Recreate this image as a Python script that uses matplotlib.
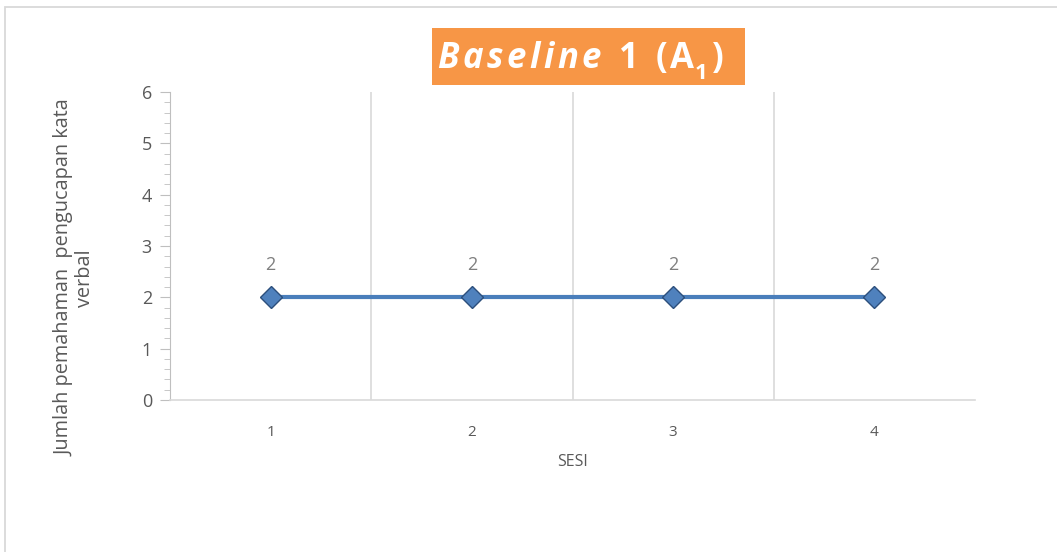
import matplotlib

matplotlib.use("Agg")

import matplotlib.pyplot as plt
from matplotlib.patches import Rectangle
from matplotlib.ticker import MultipleLocator
from matplotlib.transforms import IdentityTransform

sessions = [1, 2, 3, 4]
scores = [2, 2, 2, 2]
y_ticks = [0, 1, 2, 3, 4, 5, 6]

plt.rcParams["font.family"] = ["Open Sans", "DejaVu Sans"]

W, H = 1057, 552
fig = plt.figure(figsize=(W / 100, H / 100), dpi=100)
fig.patch.set_facecolor("white")

# outer chart border
fig.add_artist(Rectangle((5 / W, -0.05), 1.1, 1 - 7 / H + 0.05,
                         transform=fig.transFigure, facecolor="none",
                         edgecolor="#d9d9d9", linewidth=1.3))

ax = fig.add_axes([170 / W, 1 - 400 / H, 805 / W, 308 / H])
ax.set_facecolor("white")

ax.plot(sessions, scores, color="#4a7ebb", linewidth=3, zorder=3)
ax.plot(sessions, scores, linestyle="none", marker="D", markersize=11,
        markerfacecolor="#4f81bd", markeredgecolor="#2c4f7c",
        markeredgewidth=1.0, zorder=4)
for x, y in zip(sessions, scores):
    ax.annotate(str(y), (x, y), xytext=(0, 17), textcoords="offset points",
                ha="center", va="bottom", fontsize=13, color="#7f7f7f")

ax.set_xlim(0.5, 4.5)
ax.set_ylim(0, 6)
ax.set_yticks(y_ticks)
ax.yaxis.set_minor_locator(MultipleLocator(0.2))
ax.set_xticks(sessions)

# vertical gridlines at category boundaries
for b in [1.5, 2.5, 3.5]:
    ax.axvline(b, color="#d9d9d9", linewidth=1.2, zorder=1)

ax.spines[["top", "right"]].set_visible(False)
ax.spines["left"].set_color("#bfbfbf")
ax.spines["bottom"].set_color("#d9d9d9")
ax.spines["bottom"].set_linewidth(1.2)
ax.tick_params(axis="y", which="major", length=7, color="#bfbfbf",
               labelsize=13, labelcolor="#595959", pad=6)
ax.tick_params(axis="y", which="minor", length=4, color="#bfbfbf")
ax.tick_params(axis="x", length=0, labelsize=11, labelcolor="#595959", pad=18)

ax.set_xlabel("SESI", fontsize=11.5, color="#595959", labelpad=10)

fig.text(75 / W, 1 - 278 / H, "Jumlah pemahaman  pengucapan kata\nverbal",
         rotation=90, ha="center", va="center", multialignment="center",
         fontsize=14.3, color="#595959", linespacing=1.05)

# title box
fig.add_artist(Rectangle((432 / W, 1 - 85 / H), 313 / W, 57 / H,
                         transform=fig.transFigure, facecolor="#f79646",
                         edgecolor="none"))

# title text, placed piece by piece (letter-spaced italic word + bold rest)
renderer = fig.canvas.get_renderer()
baseline_y = H - 68


def put(text, x, y, size, style, spacing=0.0):
    for ch in text:
        t = fig.text(x, y, ch, transform=IdentityTransform(), fontsize=size,
                     fontweight="bold", fontstyle=style, color="white",
                     ha="left", va="baseline")
        x += t.get_window_extent(renderer).width + spacing
    return x - spacing


x = put("Baseline", 437, baseline_y, 25, "italic", spacing=3.6)
x = put("1", x + 18, baseline_y, 25, "normal")
x = put("(", x + 17, baseline_y, 25, "normal")
x = put("A", x + 2, baseline_y, 25, "normal")
x = put("1", x + 1, baseline_y - 11, 16, "normal")
put(")", x + 4, baseline_y, 25, "normal")

fig.savefig("out.png", dpi=100)
